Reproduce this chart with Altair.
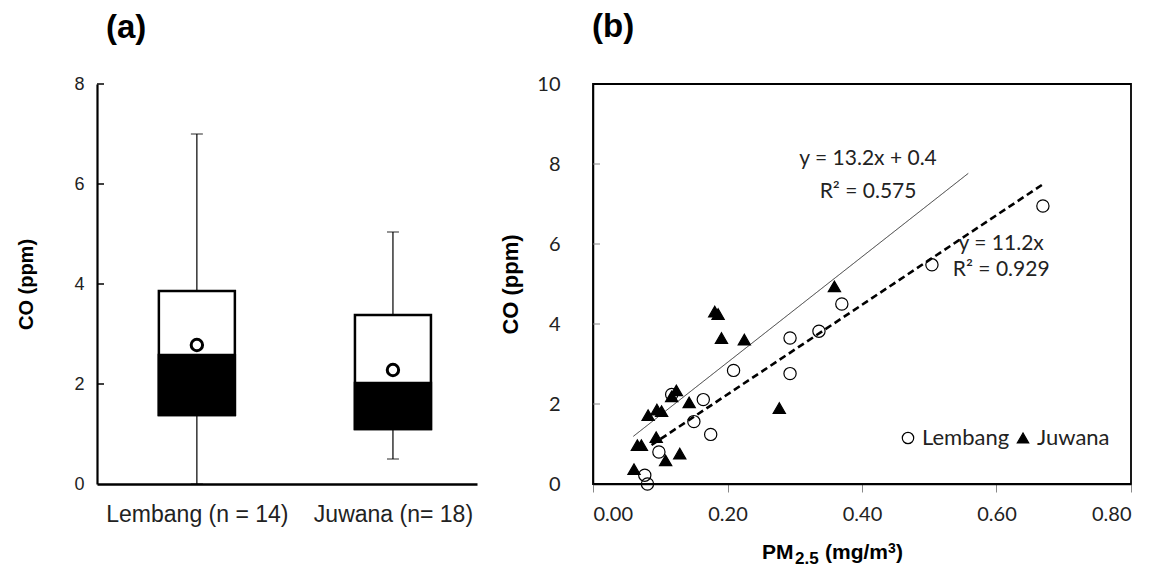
import altair as alt
import pandas as pd

# ---------------- Panel (a): box plot ----------------
box_sites = ["Lembang (n = 14)", "Juwana (n= 18)"]
box_min = [0.0, 0.5]
box_q1 = [1.38, 1.10]
box_median = [2.58, 2.02]
box_q3 = [3.86, 3.38]
box_max = [7.0, 5.04]
box_mean = [2.78, 2.28]
a_yticks = [0, 2, 4, 6, 8]
a_inner_ticks = [2, 4, 6, 8]

# ---------------- Panel (b): scatter ----------------
lembang_pm = [0.669, 0.504, 0.370, 0.336, 0.293, 0.293, 0.209, 0.164, 0.150, 0.175, 0.117, 0.098, 0.077, 0.081]
lembang_co = [6.95, 5.48, 4.50, 3.82, 3.65, 2.76, 2.84, 2.11, 1.56, 1.24, 2.24, 0.80, 0.22, 0.00]
juwana_pm = [0.359, 0.181, 0.186, 0.191, 0.225, 0.277, 0.124, 0.117, 0.143, 0.095, 0.102, 0.082, 0.094, 0.066, 0.072, 0.129, 0.108, 0.061]
juwana_co = [4.94, 4.31, 4.25, 3.65, 3.61, 1.90, 2.34, 2.19, 2.04, 1.86, 1.82, 1.72, 1.17, 0.97, 0.97, 0.76, 0.59, 0.37]

trend_series = ["Juwana", "Lembang"]
trend_slope = [13.2, 11.2]
trend_intercept = [0.4, 0.0]
trend_x_start = [0.060, 0.087]
trend_x_end = [0.558, 0.669]
trend_dash = [[1, 0], [7, 4]]
trend_width = [1.0, 2.6]

eq_text = ["y = 13.2x + 0.4", "R\u00b2 = 0.575", "y = 11.2x", "R\u00b2 = 0.929"]
eq_x = [0.409, 0.409, 0.607, 0.607]
eq_y = [8.13, 7.31, 6.01, 5.36]

b_xticks = [0.0, 0.2, 0.4, 0.6, 0.8]
b_yticks = [0, 2, 4, 6, 8, 10]
b_inner_ticks = [2, 4, 6, 8]

# x-axis title of panel (b), split so that the sub/superscripts keep their size
xtitle_parts = ["PM", "2.5", "(mg/m", "3", ")"]

ARIAL = "Liberation Sans"
CAL = "Lato"

# ---------- build panel (a) ----------
box_df = pd.DataFrame({
    "site": box_sites, "min": box_min, "q1": box_q1, "median": box_median,
    "q3": box_q3, "max": box_max, "mean": box_mean,
})

xa = alt.X("site:N", sort=box_sites,
           scale=alt.Scale(type="point", padding=0.469, align=0.543),
           axis=alt.Axis(title=None, labelAngle=0, labelFont=ARIAL, labelFontSize=23,
                         labelColor="#222222", labelPadding=19, ticks=False,
                         labelLimit=400, labelOverlap=False,
                         domainColor="black", domainWidth=2.5, grid=False))
ya_scale = alt.Scale(domain=[0, 8], nice=False)
ya_axis = alt.Axis(values=a_yticks, title="CO (ppm)", titleFont=ARIAL, titleFontSize=20,
                   titleFontWeight="bold", titleColor="black", titlePadding=37,
                   labelFont=ARIAL, labelFontSize=18, labelColor="#222222",
                   labelPadding=13, ticks=False, domainColor="black", domainWidth=2.2,
                   grid=False)

base_a = alt.Chart(box_df)

whisk_lo = base_a.mark_rule(color="black", strokeWidth=1.2).encode(
    x=xa, y=alt.Y("min:Q", scale=ya_scale, axis=ya_axis), y2="q1:Q")
whisk_hi = base_a.mark_rule(color="black", strokeWidth=1.2).encode(
    x=xa, y=alt.Y("q3:Q", scale=ya_scale), y2="max:Q")
cap_hi = base_a.mark_tick(color="black", size=12, thickness=1.2).encode(
    x=xa, y=alt.Y("max:Q", scale=ya_scale))
cap_lo = base_a.mark_tick(color="black", size=12, thickness=1.2).encode(
    x=xa, y=alt.Y("min:Q", scale=ya_scale))
box_upper = base_a.mark_bar(size=76, fill="white", stroke="black", strokeWidth=2.5).encode(
    x=xa, y=alt.Y("q1:Q", scale=ya_scale), y2="q3:Q")
box_lower = base_a.mark_bar(size=76, fill="black", stroke="black", strokeWidth=2.5).encode(
    x=xa, y=alt.Y("q1:Q", scale=ya_scale), y2="median:Q")
mean_pt = base_a.mark_point(shape="circle", size=130, strokeWidth=3, color="black",
                            filled=False, opacity=1).encode(
    x=xa, y=alt.Y("mean:Q", scale=ya_scale))
a_ticks = alt.Chart(pd.DataFrame({"t": a_inner_ticks})).mark_rule(
    color="black", strokeWidth=1.5).encode(
    x=alt.value(0), x2=alt.value(7), y=alt.Y("t:Q", scale=ya_scale))

panel_a = alt.layer(
    whisk_lo, whisk_hi, cap_hi, cap_lo, box_upper, box_lower, mean_pt, a_ticks
).properties(
    width=380, height=400,
    title=alt.TitleParams("(a)", anchor="start", frame="group", dx=9, offset=30,
                          font=ARIAL, fontSize=33, fontWeight="bold", color="black"),
    view=alt.ViewBackground(stroke=None),
)

# ---------- build panel (b) ----------
pts = pd.DataFrame({
    "site": ["Lembang"] * len(lembang_pm) + ["Juwana"] * len(juwana_pm),
    "pm": lembang_pm + juwana_pm,
    "co": lembang_co + juwana_co,
})

trend_rows = []
for s, m, c, x0, x1 in zip(trend_series, trend_slope, trend_intercept, trend_x_start, trend_x_end):
    for xv in (x0, x1):
        trend_rows.append({"series": s, "pm": xv, "co": m * xv + c})
trend_df = pd.DataFrame(trend_rows)

xb_scale = alt.Scale(domain=[0, 0.8], nice=False)
yb_scale = alt.Scale(domain=[0, 10], nice=False)
xb_axis = alt.Axis(values=b_xticks, format=".2f", title=None,
                   labelFont=CAL, labelFontSize=20, labelColor="#222222",
                   labelPadding=12, tickSize=8, tickColor="#888888", tickWidth=1,
                   domainColor="black", domainWidth=1.5, grid=False)
yb_axis = alt.Axis(values=b_yticks, format="d", title="CO (ppm)",
                   titleFont=ARIAL, titleFontSize=22, titleFontWeight="bold",
                   titleColor="black", titlePadding=14,
                   labelFont=CAL, labelFontSize=20, labelColor="#222222",
                   labelPadding=33, ticks=False,
                   domainColor="black", domainWidth=1.5, grid=False)

site_domain = ["Lembang", "Juwana"]
legend_cfg = alt.Legend(title=None, orient="none", legendX=800, legendY=343,
                        direction="horizontal", labelFont=CAL, labelFontSize=22,
                        labelColor="#222222", symbolSize=130,
                        symbolStrokeWidth=1.2, columnPadding=2, labelOffset=3)

points = alt.Chart(pts).mark_point(filled=True, size=150, strokeWidth=1.2, opacity=1).encode(
    x=alt.X("pm:Q", scale=xb_scale, axis=xb_axis),
    y=alt.Y("co:Q", scale=yb_scale, axis=yb_axis),
    fill=alt.Fill("site:N", scale=alt.Scale(domain=site_domain,
                                            range=["transparent", "black"]),
                  legend=legend_cfg),
    stroke=alt.Stroke("site:N", scale=alt.Scale(domain=site_domain,
                                                range=["black", "black"]),
                      legend=legend_cfg),
    shape=alt.Shape("site:N", scale=alt.Scale(domain=site_domain,
                                              range=["circle", "triangle-up"]),
                    legend=legend_cfg),
)

trend_layers = []
for s, d, w in zip(trend_series, trend_dash, trend_width):
    trend_layers.append(
        alt.Chart(trend_df).transform_filter(alt.datum.series == s).mark_line(
            color="black" if w > 2 else "#333333", strokeWidth=w, strokeDash=d).encode(
            x=alt.X("pm:Q", scale=xb_scale), y=alt.Y("co:Q", scale=yb_scale))
    )

eq_df = pd.DataFrame({"label": eq_text, "pm": eq_x, "co": eq_y})
eqs = alt.Chart(eq_df).mark_text(font=CAL, fontSize=21, color="#222222",
                                 align="center", baseline="middle").encode(
    x=alt.X("pm:Q", scale=xb_scale), y=alt.Y("co:Q", scale=yb_scale), text="label:N")

b_ticks = alt.Chart(pd.DataFrame({"t": b_inner_ticks})).mark_rule(
    color="#888888", strokeWidth=1).encode(
    x=alt.value(0), x2=alt.value(7), y=alt.Y("t:Q", scale=yb_scale))

# composite x-axis title (layout positions in pixels, text from xtitle_parts)
xt_x = [169, 202, 232, 295, 303]
xt_y = [475, 480, 475, 469, 475]
xt_size = [21, 17, 21, 14, 21]
xtitle_layers = []
for txt, px, py, fs in zip(xtitle_parts, xt_x, xt_y, xt_size):
    xtitle_layers.append(
        alt.Chart(pd.DataFrame({"t": [txt]})).mark_text(
            font=ARIAL, fontSize=fs, fontWeight="bold", color="black",
            align="left", baseline="alphabetic").encode(
            x=alt.value(px), y=alt.value(py), text="t:N")
    )

panel_b = alt.layer(b_ticks, *trend_layers, eqs, points, *xtitle_layers).properties(
    width=538, height=400,
    title=alt.TitleParams("(b)", anchor="start", frame="group", dx=-1, offset=30,
                          font=ARIAL, fontSize=33, fontWeight="bold", color="black"),
    view=alt.ViewBackground(stroke="black", strokeWidth=1.8),
)

chart = alt.hconcat(panel_a, panel_b, spacing=21).properties(
    padding={"left": 8, "top": 2, "right": 5, "bottom": 5}
).configure(
    background="white",
).configure_view(stroke=None)

chart.save("out.html", embed_options={"renderer": "svg", "actions": False})
